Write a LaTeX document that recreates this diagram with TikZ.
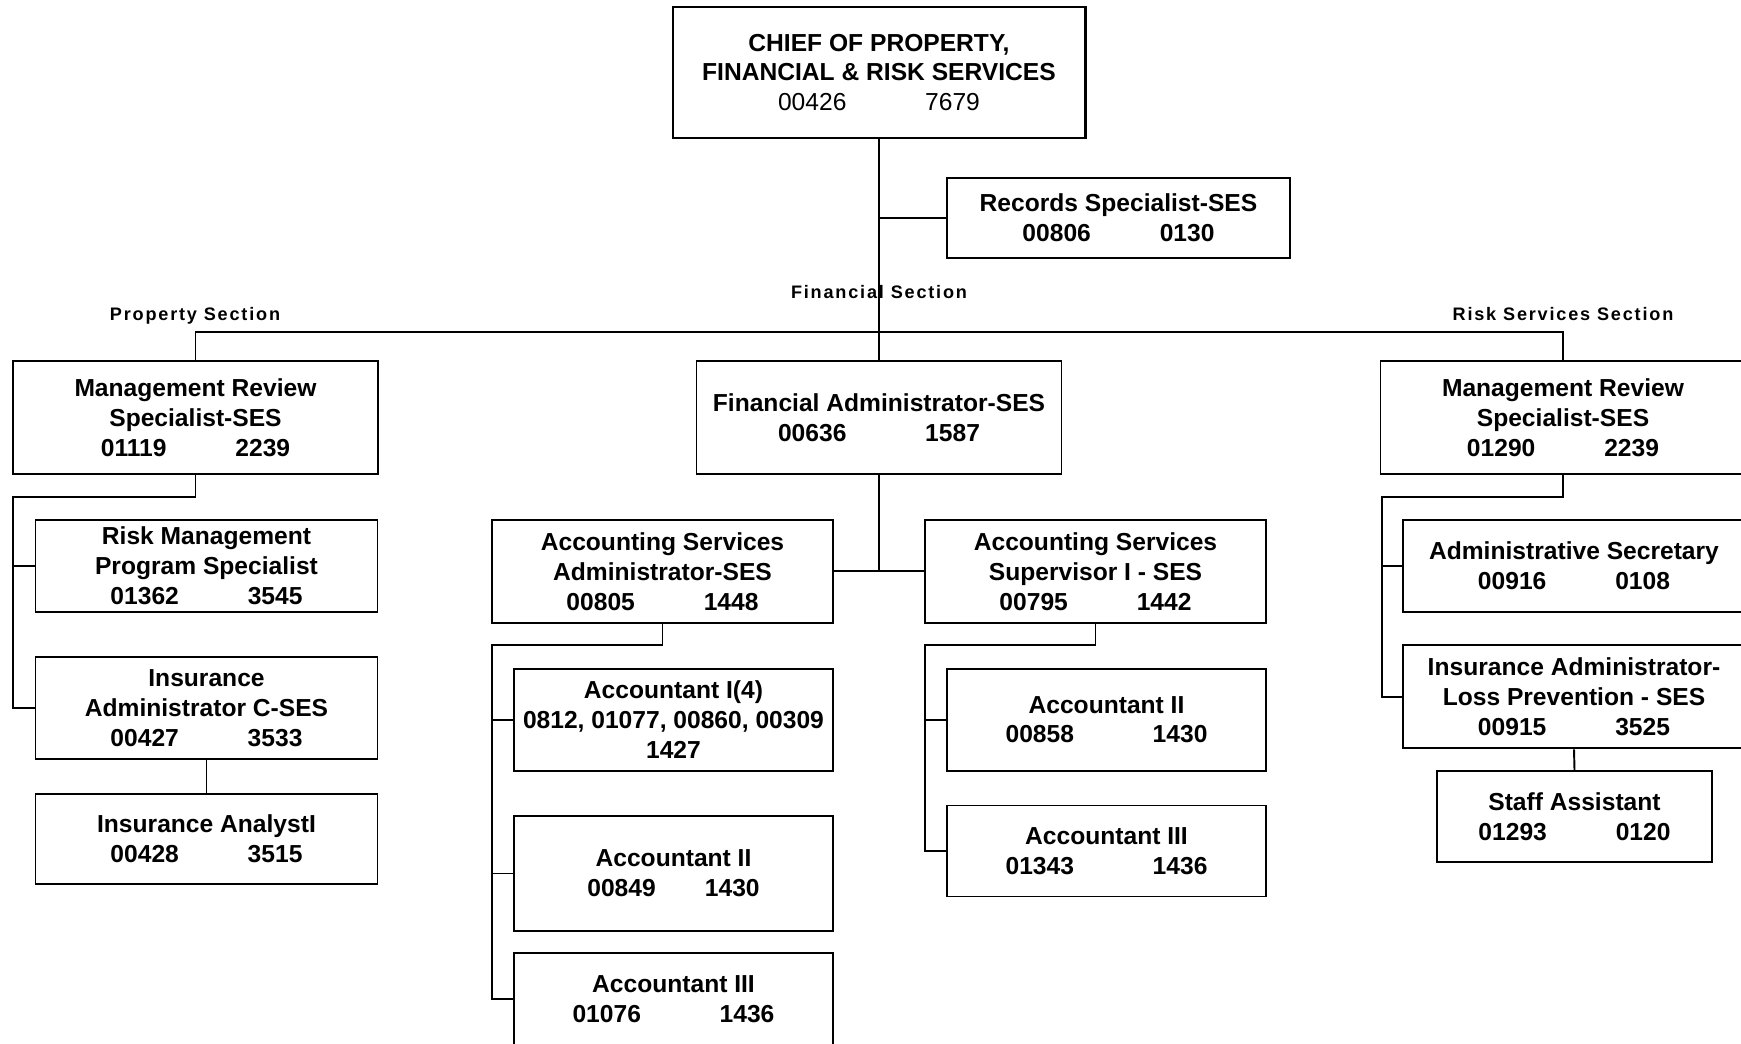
\documentclass[tikz,border=0pt]{standalone}
\usepackage{fontspec}
\setmainfont{Liberation Sans}
\newfontfamily\sectfont{Liberation Sans}[LetterSpace=10]

% position number and class code on one line
\newcommand\ids[3][2.8em]{#2\hspace{#1}#3}

\begin{document}
\begin{tikzpicture}[x=0.2mm, y=-0.2mm, line width=1.1pt,
    post/.style 2 args={draw, align=center, inner sep=0pt,
      minimum width=#1mm, minimum height=#2mm,
      font=\fontsize{14}{17}\selectfont\bfseries},
    section/.style={anchor=base, font=\sectfont\fontsize{10.3}{12}\selectfont\bfseries}]
  \useasboundingbox (0,0) rectangle (1741,1043);

  \node[post={82.4}{26.2}, line width=1.7pt] (chief) at (879,72.5)
    {CHIEF OF PROPERTY,\\ FINANCIAL \& RISK SERVICES\\ \mdseries\ids[3.2em]{00426}{7679}};
  \node[post={68.6}{16}] (rec) at (1118.5,218) {Records Specialist-SES\\ \ids{00806}{0130}};

  \node[section] (psec) at (195,320) {Property Section};
  \node[section] (fsec) at (879,298) {Financial Section};
  \node[section] (rsec) at (1563,320) {Risk Services Section};

  % section heads
  \node[post={73}{22.7}] (pms) at (195.5,417.5) {Management Review\\ Specialist-SES\\ \ids{01119}{2239}};
  \node[post={73}{22.7}] (fin) at (879,417.5) {Financial Administrator-SES\\ \ids[3.2em]{00636}{1587}};
  \node[post={73}{22.7}] (rms) at (1563,417.5) {Management Review\\ Specialist-SES\\ \ids{01290}{2239}};

  % property
  \node[post={68.4}{18.4}] (riskmgmt) at (206.5,565.6) {Risk Management\\ Program Specialist\\ \ids{01362}{3545}};
  \node[post={68.4}{20.5}] (insadm) at (206.5,707.8) {Insurance\\ Administrator C-SES\\ \ids{00427}{3533}};
  \node[post={68.4}{18}] (analyst) at (206.5,839) {Insurance AnalystI\\ \ids{00428}{3515}};

  % financial
  \node[post={68.2}{20.7}] (asa) at (662.5,571.4) {Accounting Services\\ Administrator-SES\\ \ids{00805}{1448}};
  \node[post={68.2}{20.7}] (ass) at (1095.5,571.4) {Accounting Services\\ Supervisor I - SES\\ \ids{00795}{1442}};
  \node[post={63.8}{20.4}] (acc1) at (673.5,719.7) {Accountant I(4)\\ 0812, 01077, 00860, 00309\\ 1427};
  \node[post={63.8}{23}] (acc2) at (673.5,873.5) {Accountant II\\ \ids[2em]{00849}{1430}};
  \node[post={63.8}{18.5}] (acc3) at (673.5,998.8) {Accountant III\\ \ids[3.2em]{01076}{1436}};
  \node[post={63.8}{20.4}] (sacc2) at (1106.5,719.7) {Accountant II\\ \ids[3.2em]{00858}{1430}};
  \node[post={63.8}{18.2}] (sacc3) at (1106.5,851) {Accountant III\\ \ids[3.2em]{01343}{1436}};

  % risk services
  \node[post={68.4}{18.4}] (adsec) at (1574,565.6) {Administrative Secretary\\ \ids{00916}{0108}};
  \node[post={68.4}{20.6}] (lossprev) at (1574,696.9) {Insurance Administrator-\\ Loss Prevention - SES\\ \ids{00915}{3525}};
  \node[post={55}{18.2}] (staff) at (1574.5,816.3) {Staff Assistant\\ \ids{01293}{0120}};

  % lines
  \draw (chief.south) -- (fin.north);
  \draw (rec.west) -- (rec.west -| chief.south);
  \coordinate (bus) at (879,332);
  \draw (pms.north) |- (bus) -| (rms.north);

  \coordinate (pj) at (13,496.7);
  \draw (pms.south) |- (pj) |- (insadm.west);
  \draw (riskmgmt.west) -- (riskmgmt.west -| pj);
  \draw (insadm.south) -- (analyst.north);

  \draw (fin.south) -- (fin.south |- asa.east);
  \draw (asa.east) -- (ass.west);
  \coordinate (aj) at (492,644.7);
  \draw (asa.south) |- (aj) |- (acc3.west);
  \draw (acc1.west) -- (acc1.west -| aj);
  \draw (acc2.west) -- (acc2.west -| aj);
  \coordinate (sj) at (925,644.7);
  \draw (ass.south) |- (sj) |- (sacc3.west);
  \draw (sacc2.west) -- (sacc2.west -| sj);

  \coordinate (rj) at (1382,496.7);
  \draw (rms.south) |- (rj) |- (lossprev.west);
  \draw (adsec.west) -- (adsec.west -| rj);
  \draw (lossprev.south) -- (staff.north);
\end{tikzpicture}
\end{document}
